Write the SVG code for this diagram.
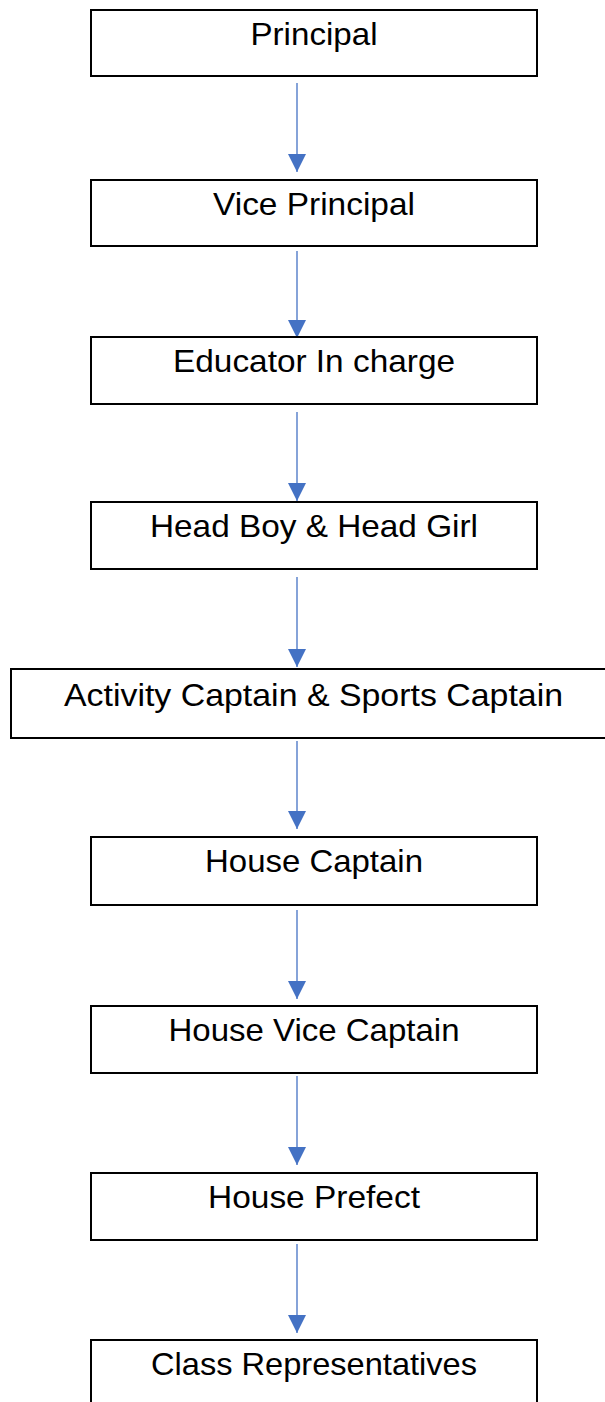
<svg xmlns="http://www.w3.org/2000/svg" width="605" height="1402" viewBox="0 0 605 1402">
<style>
.box{fill:#fff;stroke:#000;stroke-width:2}
.lbl{font-family:"Liberation Sans",Arial,sans-serif;font-size:32px;fill:#000;text-anchor:middle}
.con{stroke:#4472C4;stroke-width:1.3;fill:none}
</style>
<defs>
<marker id="ah" markerUnits="userSpaceOnUse" markerWidth="18" markerHeight="18" viewBox="0 0 16 16" refX="16" refY="8" orient="auto">
<path d="M0,0 L16,8 L0,16 Z" fill="#4472C4"/>
</marker>
</defs>
<rect width="605" height="1402" fill="#fff"/>
<g id="connectors">
<line class="con" x1="297" y1="83" x2="297" y2="172" marker-end="url(#ah)"/>
<line class="con" x1="297" y1="251" x2="297" y2="338" marker-end="url(#ah)"/>
<line class="con" x1="297" y1="412" x2="297" y2="501" marker-end="url(#ah)"/>
<line class="con" x1="297" y1="577" x2="297" y2="667" marker-end="url(#ah)"/>
<line class="con" x1="297" y1="741" x2="297" y2="829" marker-end="url(#ah)"/>
<line class="con" x1="297" y1="910" x2="297" y2="999" marker-end="url(#ah)"/>
<line class="con" x1="297" y1="1076" x2="297" y2="1165" marker-end="url(#ah)"/>
<line class="con" x1="297" y1="1244" x2="297" y2="1333" marker-end="url(#ah)"/>
</g>
<g id="n1"><rect class="box" x="91" y="10" width="446" height="66"/><text class="lbl" x="314" y="45" textLength="127" lengthAdjust="spacingAndGlyphs">Principal</text></g>
<g id="n2"><rect class="box" x="91" y="180" width="446" height="66"/><text class="lbl" x="314" y="215" textLength="202" lengthAdjust="spacingAndGlyphs">Vice Principal</text></g>
<g id="n3"><rect class="box" x="91" y="337" width="446" height="67"/><text class="lbl" x="314" y="372" textLength="282" lengthAdjust="spacingAndGlyphs">Educator In charge</text></g>
<g id="n4"><rect class="box" x="91" y="502" width="446" height="67"/><text class="lbl" x="314" y="537" textLength="328" lengthAdjust="spacingAndGlyphs">Head Boy &amp; Head Girl</text></g>
<g id="n5"><rect class="box" x="11" y="669" width="620" height="69"/><text class="lbl" x="313.5" y="706" textLength="499" lengthAdjust="spacingAndGlyphs">Activity Captain &amp; Sports Captain</text></g>
<g id="n6"><rect class="box" x="91" y="837" width="446" height="68"/><text class="lbl" x="314" y="872" textLength="218" lengthAdjust="spacingAndGlyphs">House Captain</text></g>
<g id="n7"><rect class="box" x="91" y="1006" width="446" height="67"/><text class="lbl" x="314" y="1041" textLength="291" lengthAdjust="spacingAndGlyphs">House Vice Captain</text></g>
<g id="n8"><rect class="box" x="91" y="1173" width="446" height="67"/><text class="lbl" x="314" y="1208" textLength="212" lengthAdjust="spacingAndGlyphs">House Prefect</text></g>
<g id="n9"><rect class="box" x="91" y="1340" width="446" height="90"/><text class="lbl" x="314" y="1375" textLength="326" lengthAdjust="spacingAndGlyphs">Class Representatives</text></g>
</svg>
